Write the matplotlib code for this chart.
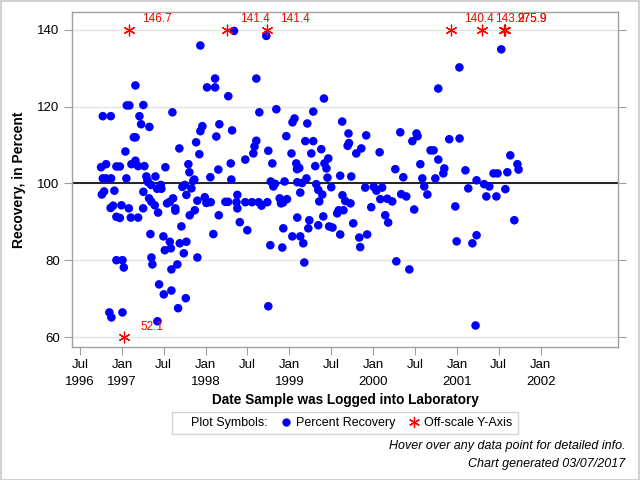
import matplotlib
matplotlib.use("Agg")
import matplotlib.pyplot as plt
from matplotlib.lines import Line2D
from matplotlib.patches import Patch, Rectangle
import numpy as np
import datetime as dt

plt.rcParams['font.family'] = ['Liberation Sans', 'DejaVu Sans']

# ---- data: decimal year the sample was logged, percent recovery ----
log_year = [
    1996.749, 1996.809, 1996.758, 1996.785, 1996.770, 1996.865, 1996.770, 1996.809, 1996.869, 1996.908,
    1996.863, 1996.893, 1996.932, 1996.973, 1996.932, 1996.973, 1996.992, 1996.932, 1997.004, 1997.020,
    1996.848, 1996.872, 1997.004, 1997.039, 1997.051, 1997.056, 1997.087, 1997.080, 1997.104, 1997.191,
    1997.111, 1997.159, 1997.140, 1997.161, 1997.159, 1997.191, 1997.266, 1997.207, 1997.227, 1997.254,
    1997.254, 1997.251, 1997.290, 1997.302, 1997.310, 1997.326, 1997.322, 1997.350, 1997.390, 1997.338,
    1997.350, 1997.362, 1997.346, 1997.398, 1997.418, 1997.462, 1997.469, 1997.430, 1997.422, 1997.442,
    1997.498, 1997.493, 1997.510, 1997.517, 1997.537, 1997.570, 1997.570, 1997.582, 1997.589, 1997.589,
    1997.601, 1997.609, 1997.636, 1997.636, 1997.660, 1997.669, 1997.684, 1997.689, 1997.708, 1997.720,
    1997.749, 1997.737, 1997.761, 1997.768, 1997.768, 1997.792, 1997.804, 1997.808, 1997.828, 1997.851,
    1997.863, 1997.868, 1997.884, 1997.899, 1997.899, 1997.923, 1997.935, 1997.959, 1997.935, 1997.988,
    1998.007, 1998.059, 1998.015, 1998.054, 1998.090, 1998.111, 1998.111, 1998.126, 1998.150, 1998.155,
    1998.162, 1998.234, 1998.266, 1998.269, 1998.298, 1998.305, 1998.314, 1998.337, 1998.367, 1998.377,
    1998.377, 1998.406, 1998.472, 1998.472, 1998.496, 1998.552, 1998.568, 1998.582, 1998.604, 1998.604,
    1998.632, 1998.640, 1998.666, 1998.723, 1998.735, 1998.747, 1998.747, 1998.771, 1998.776, 1998.795,
    1998.807, 1998.827, 1998.843, 1998.883, 1998.899, 1998.923, 1998.914, 1998.926, 1998.941, 1998.962,
    1998.970, 1999.024, 1999.034, 1999.036, 1999.060, 1999.081, 1999.090, 1999.117, 1999.093, 1999.093,
    1999.129, 1999.129, 1999.150, 1999.165, 1999.177, 1999.189, 1999.203, 1999.213, 1999.225, 1999.237,
    1999.284, 1999.284, 1999.261, 1999.308, 1999.320, 1999.344, 1999.356, 1999.344, 1999.380, 1999.392,
    1999.404, 1999.412, 1999.418, 1999.442, 1999.454, 1999.464, 1999.474, 1999.514, 1999.499, 1999.570,
    1999.588, 1999.606, 1999.606, 1999.630, 1999.633, 1999.645, 1999.667, 1999.695, 1999.711, 1999.705,
    1999.729, 1999.738, 1999.762, 1999.798, 1999.834, 1999.845, 1999.858, 1999.905, 1999.917, 1999.928,
    1999.977, 2000.007, 2000.039, 2000.107, 2000.077, 2000.085, 2000.168, 2000.227, 2000.144, 2000.179,
    2000.264, 2000.276, 2000.323, 2000.334, 2000.395, 2000.359, 2000.431, 2000.467, 2000.489, 2000.517,
    2000.529, 2000.562, 2000.586, 2000.609, 2000.646, 2000.684, 2000.720, 2000.741, 2000.776, 2000.776,
    2000.836, 2000.848, 2000.907, 2000.979, 2000.995, 2001.028, 2001.030, 2001.100, 2001.134, 2001.183,
    2001.233, 2001.221, 2001.233, 2001.323, 2001.385, 2001.350, 2001.436, 2001.484, 2001.470, 2001.528,
    2001.577, 2001.601, 2001.636, 2001.684, 2001.721, 2001.735,
]
recovery = [
    104.2, 105.0, 97.1, 97.9, 117.5, 117.5, 101.3, 101.3, 101.3, 98.1,
    93.6, 94.2, 104.4, 104.4, 91.3, 91.0, 94.3, 80.0, 80.0, 78.1,
    66.4, 65.1, 66.4, 108.3, 101.3, 120.3, 120.3, 93.5, 91.1, 91.1,
    105.0, 105.9, 112.0, 112.0, 125.5, 104.5, 104.5, 117.5, 115.4, 120.4,
    97.8, 93.5, 101.8, 100.8, 100.3, 114.7, 96.1, 95.2, 94.3, 86.8,
    80.7, 78.9, 99.6, 101.8, 98.6, 99.6, 98.6, 92.4, 64.1, 73.7,
    71.1, 86.2, 82.6, 104.2, 94.8, 95.2, 84.8, 83.1, 77.6, 72.1,
    118.5, 96.1, 93.5, 92.9, 78.9, 67.5, 109.1, 84.4, 88.8, 99.1,
    99.6, 81.8, 70.1, 97.0, 84.8, 105.0, 102.9, 91.7, 98.7, 100.7,
    101.0, 93.0, 110.7, 95.5, 80.7, 107.6, 113.6, 114.9, 135.9, 96.4,
    94.9, 95.1, 125.0, 101.6, 86.8, 127.3, 125.0, 112.2, 103.6, 91.7,
    115.4, 95.2, 95.2, 122.7, 105.2, 101.0, 113.8, 139.7, 95.1, 97.0,
    93.5, 89.9, 95.1, 106.2, 87.8, 95.1, 107.8, 109.6, 111.1, 127.3,
    95.1, 118.5, 94.2, 138.4, 95.1, 108.5, 68.0, 83.9, 100.5, 105.2,
    99.2, 99.9, 119.3, 96.1, 94.8, 95.0, 83.3, 88.3, 100.5, 112.3,
    95.9, 107.8, 86.2, 115.9, 116.9, 105.2, 103.7, 104.0, 100.3, 91.1,
    97.6, 86.2, 100.1, 84.4, 79.4, 111.0, 101.3, 115.6, 88.3, 90.4,
    118.7, 111.0, 107.8, 104.5, 99.8, 98.3, 95.3, 89.1, 108.9, 97.1,
    91.4, 122.1, 105.2, 103.9, 101.5, 106.5, 88.8, 88.5, 99.0, 92.2,
    93.0, 102.0, 86.7, 116.1, 96.9, 93.0, 95.4, 109.8, 110.5, 113.0,
    94.8, 101.8, 89.6, 107.8, 85.9, 83.4, 109.1, 98.9, 112.5, 86.7,
    93.8, 99.1, 98.1, 98.9, 108.1, 95.9, 96.0, 95.3, 91.7, 89.8,
    103.7, 79.7, 113.3, 97.2, 96.6, 101.6, 77.6, 111.0, 93.2, 113.0,
    112.3, 105.0, 101.3, 99.2, 97.1, 108.6, 108.6, 101.3, 106.2, 124.7,
    102.6, 103.9, 111.5, 94.0, 84.9, 130.2, 111.7, 103.4, 98.7, 84.4,
    86.5, 63.0, 100.8, 99.8, 99.2, 96.6, 102.6, 102.6, 96.6, 134.9,
    98.5, 102.9, 107.3, 90.4, 105.0, 103.6,
]

# off-scale samples (actual recovery shown as label)
off_year = [1997.024, 1997.084, 1998.250, 1998.728, 2000.929, 2001.293, 2001.565, 2001.568]
off_value = [52.1, 146.7, 141.4, 141.4, 140.4, 143.9, 275.9, 275.9]

y_low, y_high = 60, 140
x_start, x_end = 1996.405, 2002.923
y_ticks = [60, 80, 100, 120, 140]


def to_date(y):
    year = int(np.floor(y))
    start = dt.datetime(year, 1, 1)
    end = dt.datetime(year + 1, 1, 1)
    return start + (end - start) * (y - year)


dates = [to_date(v) for v in log_year]
off_dates = [to_date(v) for v in off_year]
off_plot = np.clip(off_value, y_low, y_high)

fig = plt.figure(figsize=(6.4, 4.8), dpi=100)
fig.patch.set_facecolor('white')
fig.add_artist(Rectangle((0.001, 0.001), 0.997, 0.997, transform=fig.transFigure,
                         fill=False, edgecolor='#c8c8c8', lw=1.2))

ax = fig.add_axes([0.1128, 0.2771, 0.8528, 0.6985])
ax.set_xlim(to_date(x_start), to_date(x_end))
ax.set_ylim(57.4, 144.7)

ax.set_yticks(y_ticks)
ax.set_yticklabels([str(t) for t in y_ticks])
for t in y_ticks:
    ax.axhline(t, color='#e3e3e3', lw=1.0, zorder=0)
ax.axhline(100, color='black', lw=1.2, zorder=1)

# x ticks: Jan / Jul
tick_dates, tick_labels = [], []
for yr in range(1996, 2003):
    for m in (1, 7):
        d = dt.datetime(yr, m, 1)
        if d < dt.datetime(1996, 7, 1) or d > dt.datetime(2002, 1, 1):
            continue
        tick_dates.append(d)
        if m == 1 or d == dt.datetime(1996, 7, 1):
            tick_labels.append(d.strftime('%b') + '\n' + str(yr))
        else:
            tick_labels.append('Jul\n')
ax.set_xticks(tick_dates)
ax.set_xticklabels(tick_labels, fontsize=9.5, linespacing=1.45)

for s in ax.spines.values():
    s.set_color('#a0a0a0')
    s.set_linewidth(1.0)
ax.tick_params(axis='x', direction='out', length=6, color='#a0a0a0', pad=3)
ax.tick_params(axis='y', direction='out', length=6, color='#a0a0a0', labelsize=9.5,
               right=True, pad=3)

ax.scatter(dates, recovery, s=38, color='#0000ff', edgecolors='none', zorder=3)
ax.scatter(off_dates, off_plot, s=60, marker=(6, 2, 0), color='#ff0000', linewidths=0.9, zorder=3)
for d, v, p in zip(off_dates, off_value, off_plot):
    ax.annotate(f'{v:.1f}', (d, p), xytext=(20, 7.5), textcoords='offset points',
                ha='center', va='center', color='#ff0000', fontsize=8.5)

ax.set_ylabel('Recovery, in Percent', fontsize=10, fontweight='bold', labelpad=8)
ax.set_xlabel('Date Sample was Logged into Laboratory', fontsize=9.8, fontweight='bold', labelpad=4)

handles = [Patch(facecolor='none', edgecolor='none', label='Plot Symbols:'),
           Line2D([], [], marker='o', color='#0000ff', linestyle='none', markersize=6,
                  markeredgewidth=0, label='Percent Recovery'),
           Line2D([], [], marker=(6, 2, 0), color='#ff0000', linestyle='none', markersize=8,
                  markeredgewidth=0.9, label='Off-scale Y-Axis')]
leg = fig.legend(handles=handles, loc='center', bbox_to_anchor=(0.539, 0.118), ncol=3,
                 fontsize=9, frameon=True, fancybox=False, edgecolor='#c8c8c8',
                 handlelength=0.6, handletextpad=0.5, columnspacing=1.2, borderpad=0.4)
leg.get_frame().set_linewidth(1.0)

fig.text(0.977, 0.070, 'Hover over any data point for detailed info.', ha='right', va='center',
         fontsize=9, style='italic')
fig.text(0.977, 0.033, 'Chart generated 03/07/2017', ha='right', va='center',
         fontsize=9, style='italic')

fig.savefig('out.png', dpi=100)
